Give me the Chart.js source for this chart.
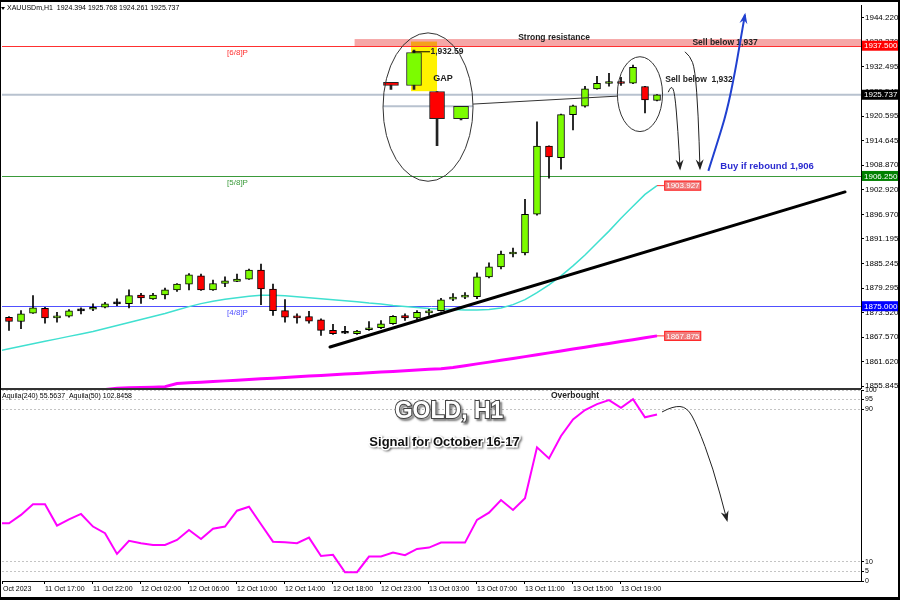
<!DOCTYPE html>
<html>
<head>
<meta charset="utf-8">
<script src="https://cdn.jsdelivr.net/npm/chart.js@4.4.0/dist/chart.umd.min.js"></script>
<style>
body { margin: 0; background: #fff; }
#wrap { position: relative; width: 900px; height: 600px; background: #fff; }
#wrap canvas { position: absolute; left: 0; top: 0; }
</style>
</head>
<body>
<div id="wrap">
  <canvas id="priceChart" width="900" height="600"></canvas>
  <canvas id="oscChart" width="900" height="600"></canvas>
</div>
<script>
// H1 candles, bar 0 = 11 Oct 14:00
const openP = [1872.35, 1871.33, 1873.31, 1874.50, 1872.21, 1872.59, 1873.88, 1874.26, 1874.74, 1875.55,
  1875.60, 1877.69, 1876.74, 1877.69, 1878.88, 1880.31, 1882.29, 1878.88, 1880.45, 1880.93,
  1881.50, 1883.64, 1879.12, 1873.95, 1872.35, 1872.52, 1871.74, 1869.19, 1868.50, 1868.40,
  1869.35, 1869.83, 1870.78, 1872.76, 1872.21, 1873.40, 1873.95, 1876.69, 1877.17, 1877.30,
  1882.05, 1884.43, 1887.53, 1887.77, 1897.06, 1913.42, 1910.63, 1920.95, 1923.02, 1927.14,
  1928.43, 1928.67, 1928.50, 1927.71, 1924.394];
const highP = [1872.52, 1873.95, 1877.52, 1874.74, 1873.55, 1874.19, 1874.59, 1875.55, 1875.93, 1876.74,
  1878.95, 1878.07, 1878.07, 1879.36, 1880.45, 1882.84, 1882.69, 1881.26, 1882.05, 1882.69,
  1883.88, 1885.08, 1880.31, 1876.57, 1873.16, 1873.78, 1871.98, 1870.62, 1870.14, 1869.19,
  1871.33, 1871.57, 1872.76, 1873.16, 1873.95, 1874.26, 1876.88, 1878.00, 1878.24, 1883.00,
  1885.38, 1888.24, 1888.96, 1900.63, 1919.21, 1913.50, 1921.10, 1923.26, 1927.78, 1930.17,
  1930.88, 1929.93, 1932.86, 1927.78, 1925.768];
const lowP = [1869.19, 1869.59, 1873.24, 1870.93, 1871.16, 1872.35, 1873.16, 1873.95, 1874.59, 1875.14,
  1874.59, 1875.69, 1876.64, 1876.74, 1878.55, 1878.88, 1878.80, 1878.80, 1879.67, 1880.86,
  1881.45, 1875.38, 1872.76, 1871.16, 1870.93, 1870.93, 1868.00, 1868.24, 1868.40, 1868.24,
  1869.19, 1869.59, 1870.62, 1871.57, 1871.57, 1872.76, 1873.78, 1876.33, 1876.81, 1876.81,
  1881.81, 1883.96, 1886.81, 1887.29, 1896.82, 1905.70, 1907.85, 1917.30, 1922.78, 1927.07,
  1927.78, 1927.95, 1928.38, 1921.35, 1924.261];
const closeP = [1871.33, 1873.16, 1874.59, 1872.21, 1872.59, 1873.88, 1873.90, 1874.74, 1875.55, 1875.60,
  1877.52, 1876.98, 1877.69, 1878.95, 1880.31, 1882.53, 1878.88, 1880.45, 1881.10, 1881.50,
  1883.64, 1879.12, 1873.95, 1872.35, 1872.21, 1871.40, 1869.19, 1868.40, 1868.60, 1869.02,
  1869.83, 1870.78, 1872.59, 1872.21, 1873.55, 1873.78, 1876.50, 1877.17, 1877.52, 1882.05,
  1884.43, 1887.53, 1887.77, 1897.06, 1913.42, 1910.80, 1920.95, 1923.09, 1927.14, 1928.50,
  1928.74, 1928.43, 1932.31, 1924.52, 1925.737];

// moving averages (fast one starts one bar before the first candle)
const maFastStart = -1;
const maFast = [1864.18, 1864.78, 1865.38, 1865.97, 1866.57, 1867.16, 1867.76, 1868.35, 1868.95, 1869.66,
  1870.38, 1871.09, 1871.81, 1872.52, 1873.24, 1874.07, 1874.90, 1875.62, 1876.21, 1876.69,
  1877.05, 1877.40, 1877.64, 1877.64, 1877.52, 1877.29, 1877.05, 1876.81, 1876.57, 1876.33,
  1876.09, 1875.74, 1875.50, 1875.14, 1874.90, 1874.67, 1874.43, 1874.31, 1874.19, 1874.07,
  1874.07, 1874.19, 1874.55, 1875.38, 1876.57, 1878.24, 1880.14, 1882.29, 1884.67, 1887.29,
  1890.15, 1893.01, 1896.10, 1898.96, 1901.82, 1903.927];
const maSlow = [1854.20, 1854.30, 1854.40, 1854.50, 1854.60, 1854.70, 1854.80, 1854.90, 1855.00, 1855.30,
  1855.42, 1855.49, 1855.58, 1855.70, 1856.44, 1856.61, 1856.77, 1856.92, 1857.08, 1857.25,
  1857.42, 1857.56, 1857.73, 1857.89, 1858.06, 1858.23, 1858.37, 1858.54, 1858.70, 1858.87,
  1859.04, 1859.18, 1859.35, 1859.51, 1859.68, 1859.85, 1860.01, 1860.30, 1860.73, 1861.16,
  1861.58, 1862.01, 1862.44, 1862.90, 1863.35, 1863.80, 1864.25, 1864.71, 1865.16, 1865.61,
  1866.06, 1866.52, 1866.97, 1867.42, 1867.875];

// oscillator (Aquila), starts one bar before the first candle
const aquilaStart = -1;
const aquila = [30.2, 30.2, 34.6, 40.2, 40.2, 29.0, 32.3, 35.1, 28.5, 25.0,
  14.2, 21.0, 19.8, 18.9, 18.9, 21.5, 26.7, 22.0, 27.4, 28.5,
  36.8, 38.9, 29.7, 20.6, 20.3, 19.8, 22.7, 13.1, 13.7, 4.6,
  4.6, 12.8, 12.8, 14.9, 13.5, 16.8, 17.5, 20.1, 20.1, 20.1,
  32.0, 35.8, 42.4, 37.2, 43.3, 70.0, 64.2, 75.9, 84.6, 89.5,
  92.6, 94.7, 90.7, 95.2, 85.7, 87.2];

// axes
const priceTickValues = [1944.220, 1938.370, 1932.495, 1926.545, 1920.595, 1914.645, 1908.870, 1902.920,
  1896.970, 1891.195, 1885.245, 1879.295, 1873.520, 1867.570, 1861.620, 1855.845];
const timeTickPos = [-0.5, 3, 7, 11, 15, 19, 23, 27, 31, 35, 39, 43, 47, 51];
const timeTickText = ['Oct 2023', '11 Oct 17:00', '11 Oct 22:00', '12 Oct 02:00', '12 Oct 06:00',
  '12 Oct 10:00', '12 Oct 14:00', '12 Oct 18:00', '12 Oct 23:00', '13 Oct 03:00', '13 Oct 07:00',
  '13 Oct 11:00', '13 Oct 15:00', '13 Oct 19:00'];
const oscTickValues = [0, 5, 10, 90, 95, 100];

// magnified copy of the last four candles (the GAP inset)
const insetX = [31.83, 33.75, 35.67, 37.67];
const insetOpen = [1928.74, 1927.95, 1926.52, 1919.99];
const insetHigh = [1928.74, 1936.43, 1926.52, 1922.95];
const insetLow = [1927.00, 1927.00, 1913.49, 1919.68];
const insetClose = [1927.95, 1935.88, 1919.99, 1922.95];

// levels and drawn objects
const murreyValues = [1937.5, 1906.25, 1875.0];
const murreyNames = ['[6/8]P', '[5/8]P', '[4/8]P'];
const bidPrice = 1925.737;
const resistanceLow = 1937.3, resistanceHigh = 1939.1;
const trendX = [26.75, 69.67];
const trendP = [1865.21, 1902.42];

const xMin = -0.5833, xMax = 71.0;
const GREEN = '#7cfc00', RED = '#ff0000';

Chart.defaults.font.family = "'Liberation Sans', Arial, sans-serif";
Chart.defaults.color = '#000';

function candleColor(o, c) {
    if (Math.abs(c - o) < 0.1) return '#000';
    return c > o ? GREEN : RED;
}

function curvePath(ctx, pts) {
    ctx.moveTo(pts[0][0], pts[0][1]);
    for (let i = 1; i < pts.length - 1; i++) {
        const mx = (pts[i][0] + pts[i + 1][0]) / 2, my = (pts[i][1] + pts[i + 1][1]) / 2;
        ctx.quadraticCurveTo(pts[i][0], pts[i][1], mx, my);
    }
    const last = pts[pts.length - 1];
    ctx.lineTo(last[0], last[1]);
}

function drawArrow(ctx, pts, color, width) {
    ctx.save();
    ctx.strokeStyle = color;
    ctx.fillStyle = color;
    ctx.lineWidth = width;
    ctx.beginPath();
    curvePath(ctx, pts);
    ctx.stroke();
    const a = pts[pts.length - 2], b = pts[pts.length - 1];
    const ang = Math.atan2(b[1] - a[1], b[0] - a[0]);
    const len = 9, half = 4;
    const cx = Math.cos(ang), sn = Math.sin(ang);
    ctx.beginPath();
    ctx.moveTo(b[0] + cx * 2, b[1] + sn * 2);
    ctx.lineTo(b[0] - len * cx + half * sn, b[1] - len * sn - half * cx);
    ctx.lineTo(b[0] - len * cx * 0.6, b[1] - len * sn * 0.6);
    ctx.lineTo(b[0] - len * cx - half * sn, b[1] - len * sn + half * cx);
    ctx.closePath();
    ctx.fill();
    ctx.restore();
}

function text(ctx, s, x, y, font, color, align) {
    ctx.save();
    ctx.font = font;
    ctx.fillStyle = color;
    ctx.textAlign = align || 'center';
    ctx.textBaseline = 'middle';
    ctx.fillText(s, x, y);
    ctx.restore();
}

function priceTag(ctx, s, x, y, fill, border, color, w) {
    ctx.save();
    ctx.fillStyle = fill;
    ctx.fillRect(x, y - 5, w, 10);
    if (border) {
        ctx.strokeStyle = border;
        ctx.lineWidth = 1;
        ctx.strokeRect(x + 0.5, y - 4.5, w - 1, 9);
    }
    ctx.font = '8px "Liberation Sans", Arial';
    ctx.fillStyle = color;
    ctx.textBaseline = 'middle';
    ctx.fillText(s, x + 2, y + 0.5);
    ctx.restore();
}

const priceDecor = {
    id: 'priceDecor',
    beforeDatasetsDraw(chart) {
        const { ctx, chartArea: a, scales: { x, y } } = chart;
        ctx.save();
        ctx.beginPath();
        ctx.rect(a.left, a.top, a.right - a.left, a.bottom - a.top);
        ctx.clip();
        // yellow highlight behind the gap candle
        const hx0 = x.getPixelForValue(33.5), hx1 = x.getPixelForValue(35.67);
        const hy0 = y.getPixelForValue(1938.5), hy1 = y.getPixelForValue(1926.59);
        ctx.fillStyle = '#fff200';
        ctx.fillRect(hx0, hy0, hx1 - hx0, hy1 - hy0);
        // resistance zone
        const bx = x.getPixelForValue(28.8);
        const by0 = y.getPixelForValue(resistanceHigh), by1 = y.getPixelForValue(resistanceLow);
        ctx.fillStyle = 'rgba(235,60,60,0.45)';
        ctx.fillRect(bx, by0, a.right - bx, by1 - by0);
        // murrey lines
        const colors = ['#ff3030', '#3a9a3a', '#5050ff'];
        murreyValues.forEach((v, i) => {
            const py = Math.round(y.getPixelForValue(v)) + 0.5;
            ctx.strokeStyle = colors[i];
            ctx.lineWidth = 1;
            ctx.beginPath();
            ctx.moveTo(a.left, py);
            ctx.lineTo(a.right, py);
            ctx.stroke();
            text(ctx, murreyNames[i], x.getPixelForValue(18.17), py + 6.5, '8px "Liberation Sans"', colors[i], 'left');
        });
        // bid line
        const bidY = y.getPixelForValue(bidPrice);
        ctx.strokeStyle = '#b8c2cf';
        ctx.lineWidth = 2;
        ctx.beginPath();
        ctx.moveTo(a.left, bidY);
        ctx.lineTo(a.right, bidY);
        ctx.stroke();
        // bid line of the inset
        const iy = y.getPixelForValue(1922.97);
        ctx.beginPath();
        ctx.moveTo(x.getPixelForValue(31.17), iy);
        ctx.lineTo(x.getPixelForValue(38.67), iy);
        ctx.stroke();
        ctx.restore();
    },
    afterDatasetsDraw(chart) {
        const { ctx, scales: { x, y } } = chart;
        const P = (xv, pv) => [x.getPixelForValue(xv), y.getPixelForValue(pv)];
        ctx.save();
        ctx.strokeStyle = '#333';
        ctx.lineWidth = 1;
        // ellipses
        [[34.92, 1922.78, 3.75, 17.8], [52.58, 1925.88, 1.88, 8.98]].forEach(e => {
            const c = P(e[0], e[1]);
            const rx = x.getPixelForValue(e[0] + e[2]) - c[0];
            const ry = y.getPixelForValue(e[1] - e[3]) - c[1];
            ctx.beginPath();
            ctx.ellipse(c[0], c[1], rx, ry, 0, 0, Math.PI * 2);
            ctx.stroke();
        });
        // connector from the inset to the real candles
        let p0 = P(38.67, 1923.5), p1 = P(50.67, 1925.4);
        ctx.beginPath();
        ctx.moveTo(p0[0], p0[1]);
        ctx.lineTo(p1[0], p1[1]);
        ctx.stroke();
        // leader to the 1,932.59 note
        p0 = P(33.6, 1936.05); p1 = P(35.08, 1936.05);
        ctx.strokeStyle = '#000';
        ctx.beginPath();
        ctx.moveTo(p0[0], p0[1]);
        ctx.lineTo(p1[0], p1[1]);
        ctx.stroke();
        ctx.restore();

        const bold = '"Liberation Sans", Arial';
        let t = P(35.12, 1936.0);
        text(ctx, '1,932.59', t[0], t[1], 'bold 8.5px ' + bold, '#222', 'left');
        t = P(36.17, 1929.69);
        text(ctx, 'GAP', t[0], t[1], 'bold 9px ' + bold, '#222');
        t = P(45.42, 1939.46);
        text(ctx, 'Strong resistance', t[0], t[1], 'bold 8.5px ' + bold, '#222');
        t = P(59.67, 1938.27);
        text(ctx, 'Sell below 1,937', t[0], t[1], 'bold 8.5px ' + bold, '#222');
        t = P(57.5, 1929.45);
        text(ctx, 'Sell below  1,932', t[0], t[1], 'bold 8.5px ' + bold, '#222');
        t = P(63.17, 1908.49);
        text(ctx, 'Buy if rebound 1,906', t[0], t[1], 'bold 9.5px ' + bold, '#2a2ad0');

        // arrows
        drawArrow(ctx, [[54.94, 1926.35], [55.17, 1928.02], [55.48, 1926.35], [55.75, 1916.83], [55.92, 1908.01]].map(q => P(q[0], q[1])), '#222', 1);
        drawArrow(ctx, [[56.33, 1936.05], [56.75, 1935.10], [57.17, 1931.90], [57.44, 1920.81], [57.58, 1908.08]].map(q => P(q[0], q[1])), '#222', 1);
        drawArrow(ctx, [[58.28, 1907.47], [58.97, 1913.66], [59.81, 1921.59], [60.5, 1931.12], [60.92, 1938.27], [61.33, 1944.94]].map(q => P(q[0], q[1])), '#2040d0', 2);

        // labels at the moving average ends
        const lastI = maSlow.length - 1;
        [[maFast[maFast.length - 1]], [maSlow[lastI]]].forEach(v => {
            const end = P(lastI, v[0]);
            const bx = x.getPixelForValue(lastI + 0.6);
            ctx.save();
            ctx.strokeStyle = '#ff3030';
            ctx.beginPath();
            ctx.moveTo(end[0], end[1]);
            ctx.lineTo(bx, end[1]);
            ctx.stroke();
            ctx.restore();
            priceTag(ctx, v[0].toFixed(3), bx, end[1], '#f07c7c', '#ff2020', '#fff', 37);
        });
    },
    afterDraw(chart) {
        const { ctx, chartArea: a, scales: { y } } = chart;
        const tagColors = ['#ff0000', '#000000', '#008000', '#0000ff'];
        [1937.5, bidPrice, 1906.25, 1875.0].forEach((v, i) => {
            priceTag(ctx, v.toFixed(3), a.right + 1, y.getPixelForValue(v), tagColors[i], null, '#fff', 36);
        });
        // header
        ctx.save();
        ctx.fillStyle = '#000';
        ctx.beginPath();
        ctx.moveTo(1, 7); ctx.lineTo(5, 7); ctx.lineTo(3, 10); ctx.closePath();
        ctx.fill();
        ctx.restore();
        text(ctx, 'XAUUSDm,H1  1924.394 1925.768 1924.261 1925.737', 7, 8.5, '7px "Liberation Sans"', '#000', 'left');
        // panel separator
        ctx.fillStyle = '#333';
        ctx.fillRect(0, 388, a.right, 2);
    }
};

new Chart(document.getElementById('priceChart'), {
    type: 'bar',
    data: {
        datasets: [
            {
                type: 'line',
                data: maSlow.map((v, i) => ({ x: i, y: v })),
                borderColor: '#ff00ff', borderWidth: 3, pointRadius: 0, order: 7
            },
            {
                type: 'line',
                data: maFast.map((v, i) => ({ x: i + maFastStart, y: v })),
                borderColor: '#40e0d0', borderWidth: 1.5, pointRadius: 0, order: 6
            },
            {
                data: openP.map((o, i) => ({ x: i, y: [lowP[i], highP[i]] })),
                barThickness: 1, backgroundColor: '#000', grouped: false, order: 5
            },
            {
                data: openP.map((o, i) => ({ x: i, y: [o, closeP[i]] })),
                barThickness: 7, grouped: false, order: 4,
                backgroundColor: c => candleColor(openP[c.dataIndex], closeP[c.dataIndex]),
                borderColor: '#000', borderWidth: 1, borderSkipped: false, minBarLength: 2
            },
            {
                data: insetX.map((xv, i) => ({ x: xv, y: [insetLow[i], insetHigh[i]] })),
                barThickness: 2, backgroundColor: '#222', grouped: false, order: 3
            },
            {
                data: insetX.map((xv, i) => ({ x: xv, y: [insetOpen[i], insetClose[i]] })),
                barThickness: 15, grouped: false, order: 2,
                backgroundColor: c => candleColor(insetOpen[c.dataIndex], insetClose[c.dataIndex]),
                borderColor: '#222', borderWidth: 1, borderSkipped: false, minBarLength: 2
            },
            {
                type: 'line',
                data: trendX.map((xv, i) => ({ x: xv, y: trendP[i] })),
                borderColor: '#000', borderWidth: 3, pointRadius: 0, borderCapStyle: 'round', order: 0
            }
        ]
    },
    options: {
        responsive: false,
        animation: false,
        layout: { padding: { top: 3, left: 2, right: 0, bottom: 212 } },
        plugins: { legend: { display: false }, tooltip: { enabled: false } },
        scales: {
            x: { type: 'linear', display: false, min: xMin, max: xMax, offset: false },
            y: {
                type: 'linear', position: 'right', min: 1855.37, max: 1947.08,
                afterFit: s => { s.width = 39; },
                afterBuildTicks: s => { s.ticks = priceTickValues.map(v => ({ value: v })); },
                ticks: { callback: v => v.toFixed(3), font: { size: 8 }, color: '#000', padding: 1, autoSkip: false },
                grid: { drawOnChartArea: false, tickLength: 3, color: '#000' },
                border: { display: true, color: '#000' }
            }
        }
    },
    plugins: [priceDecor]
});

const oscDecor = {
    id: 'oscDecor',
    afterDatasetsDraw(chart) {
        const { ctx, chartArea: a, scales: { x, y } } = chart;
        const P = (xv, v) => [x.getPixelForValue(xv), y.getPixelForValue(v)];
        text(ctx, 'Aquila(240) 55.5637  Aquila(50) 102.8458', a.left, a.top + 6, '7px "Liberation Sans"', '#000', 'left');
        let t = P(47.17, 96.9);
        text(ctx, 'Overbought', t[0], t[1], 'bold 8.5px "Liberation Sans"', '#222');

        // title
        t = P(36.67, 88.5);
        ctx.save();
        ctx.font = 'bold 23px "Liberation Sans", Arial';
        ctx.textAlign = 'center';
        ctx.textBaseline = 'middle';
        ctx.shadowColor = 'rgba(0,0,0,0.55)';
        ctx.shadowOffsetX = 2; ctx.shadowOffsetY = 2; ctx.shadowBlur = 2;
        ctx.lineWidth = 2;
        ctx.strokeStyle = '#444';
        ctx.strokeText('GOLD, H1', t[0], t[1]);
        ctx.shadowColor = 'transparent';
        ctx.fillStyle = '#fff';
        ctx.fillText('GOLD, H1', t[0], t[1]);
        t = P(36.29, 72.8);
        ctx.font = 'bold 13px "Liberation Sans", Arial';
        ctx.shadowColor = 'rgba(0,0,0,0.5)';
        ctx.shadowOffsetX = 1.5; ctx.shadowOffsetY = 1.5; ctx.shadowBlur = 2;
        ctx.lineWidth = 3;
        ctx.strokeStyle = '#fff';
        ctx.strokeText('Signal for October 16-17', t[0], t[1]);
        ctx.shadowColor = 'transparent';
        ctx.fillStyle = '#111';
        ctx.fillText('Signal for October 16-17', t[0], t[1]);
        ctx.restore();

        drawArrow(ctx, [[54.42, 88.5], [55.33, 91.6], [56.5, 91.1], [57.33, 81.7], [58.67, 59.2], [59.83, 31.9]].map(q => P(q[0], q[1])), '#222', 1);
    },
    afterDraw(chart) {
        const ctx = chart.ctx;
        ctx.save();
        ctx.fillStyle = '#000';
        ctx.fillRect(0, 0, 900, 2);
        ctx.fillRect(0, 597, 900, 3);
        ctx.fillRect(0, 0, 1, 600);
        ctx.fillRect(898, 0, 2, 600);
        ctx.restore();
    }
};

new Chart(document.getElementById('oscChart'), {
    type: 'line',
    data: {
        datasets: [{
            data: aquila.map((v, i) => ({ x: i + aquilaStart, y: v })),
            borderColor: '#ff00ff', borderWidth: 2, pointRadius: 0
        }]
    },
    options: {
        responsive: false,
        animation: false,
        layout: { padding: { top: 390, left: 2, right: 0, bottom: 2 } },
        plugins: { legend: { display: false }, tooltip: { enabled: false } },
        scales: {
            x: {
                type: 'linear', min: xMin, max: xMax, offset: false,
                afterFit: s => { s.height = 17; },
                afterBuildTicks: s => { s.ticks = timeTickPos.map(v => ({ value: v })); },
                ticks: {
                    callback: (v, i) => timeTickText[i], align: 'start', font: { size: 7 },
                    color: '#000', padding: 1, autoSkip: false, maxRotation: 0, minRotation: 0
                },
                grid: { drawOnChartArea: false, tickLength: 3, color: '#000', offset: false },
                border: { display: true, color: '#000' }
            },
            y: {
                type: 'linear', position: 'right', min: 0, max: 100,
                afterFit: s => { s.width = 39; },
                afterBuildTicks: s => { s.ticks = oscTickValues.map(v => ({ value: v })); },
                ticks: { font: { size: 7 }, color: '#000', padding: 1, autoSkip: false },
                grid: { color: '#c4c4c4', tickLength: 3, tickColor: '#000' },
                border: { display: true, color: '#000', dash: [2, 2] }
            }
        }
    },
    plugins: [oscDecor]
});
</script>
</body>
</html>
